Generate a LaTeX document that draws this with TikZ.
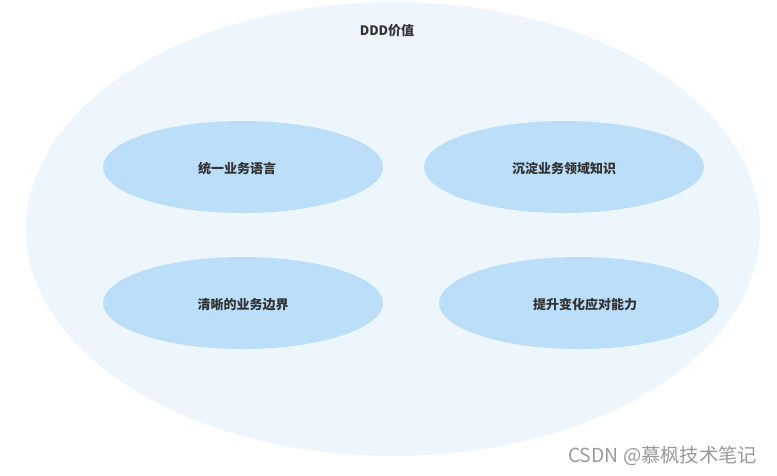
\documentclass[tikz,border=0pt]{standalone}
\usepackage{fontspec}
\setmainfont{Noto Sans CJK SC}
\newfontfamily\wmfont{Noto Sans CJK SC}
\usetikzlibrary{shapes.geometric}
\definecolor{outerfill}{HTML}{EEF6FD}
\definecolor{innerfill}{HTML}{BBDEF9}
\definecolor{textgray}{HTML}{333333}
\tikzset{
  valuebox/.style={ellipse, fill=innerfill, minimum width=280*0.75pt, minimum height=92*0.75pt, inner sep=0pt},
  valuetext/.style={text=textgray, font=\fontsize{9.75}{11}\selectfont\bfseries, yshift=-1.5pt},
}
\begin{document}
\begin{tikzpicture}[x=0.75pt, y=-0.75pt]
	\useasboundingbox (0,0) rectangle (777,475);
	% outer area
	\node[ellipse, fill=outerfill, minimum width=734*0.75pt, minimum height=454*0.75pt, inner sep=0pt] (ddd) at (393,229) {};
	\node[valuetext, yshift=1.5pt] (title) at (387,31) {DDD价值};
	% values
	\node[valuebox, label={[valuetext, xshift=-4.5pt]center:统一业务语言}] (lang) at (243,167) {};
	\node[valuebox, label={[valuetext]center:沉淀业务领域知识}] (know) at (564,167) {};
	\node[valuebox, label={[valuetext]center:清晰的业务边界}] (bound) at (243,303) {};
	\node[valuebox, label={[valuetext, xshift=4.5pt]center:提升变化应对能力}] (change) at (579,303) {};
	% watermark
	\node[text=black!40, font=\wmfont\fontsize{14.5}{16}\selectfont, anchor=east] (mark) at (762,456) {CSDN @慕枫技术笔记};
\end{tikzpicture}
\end{document}
